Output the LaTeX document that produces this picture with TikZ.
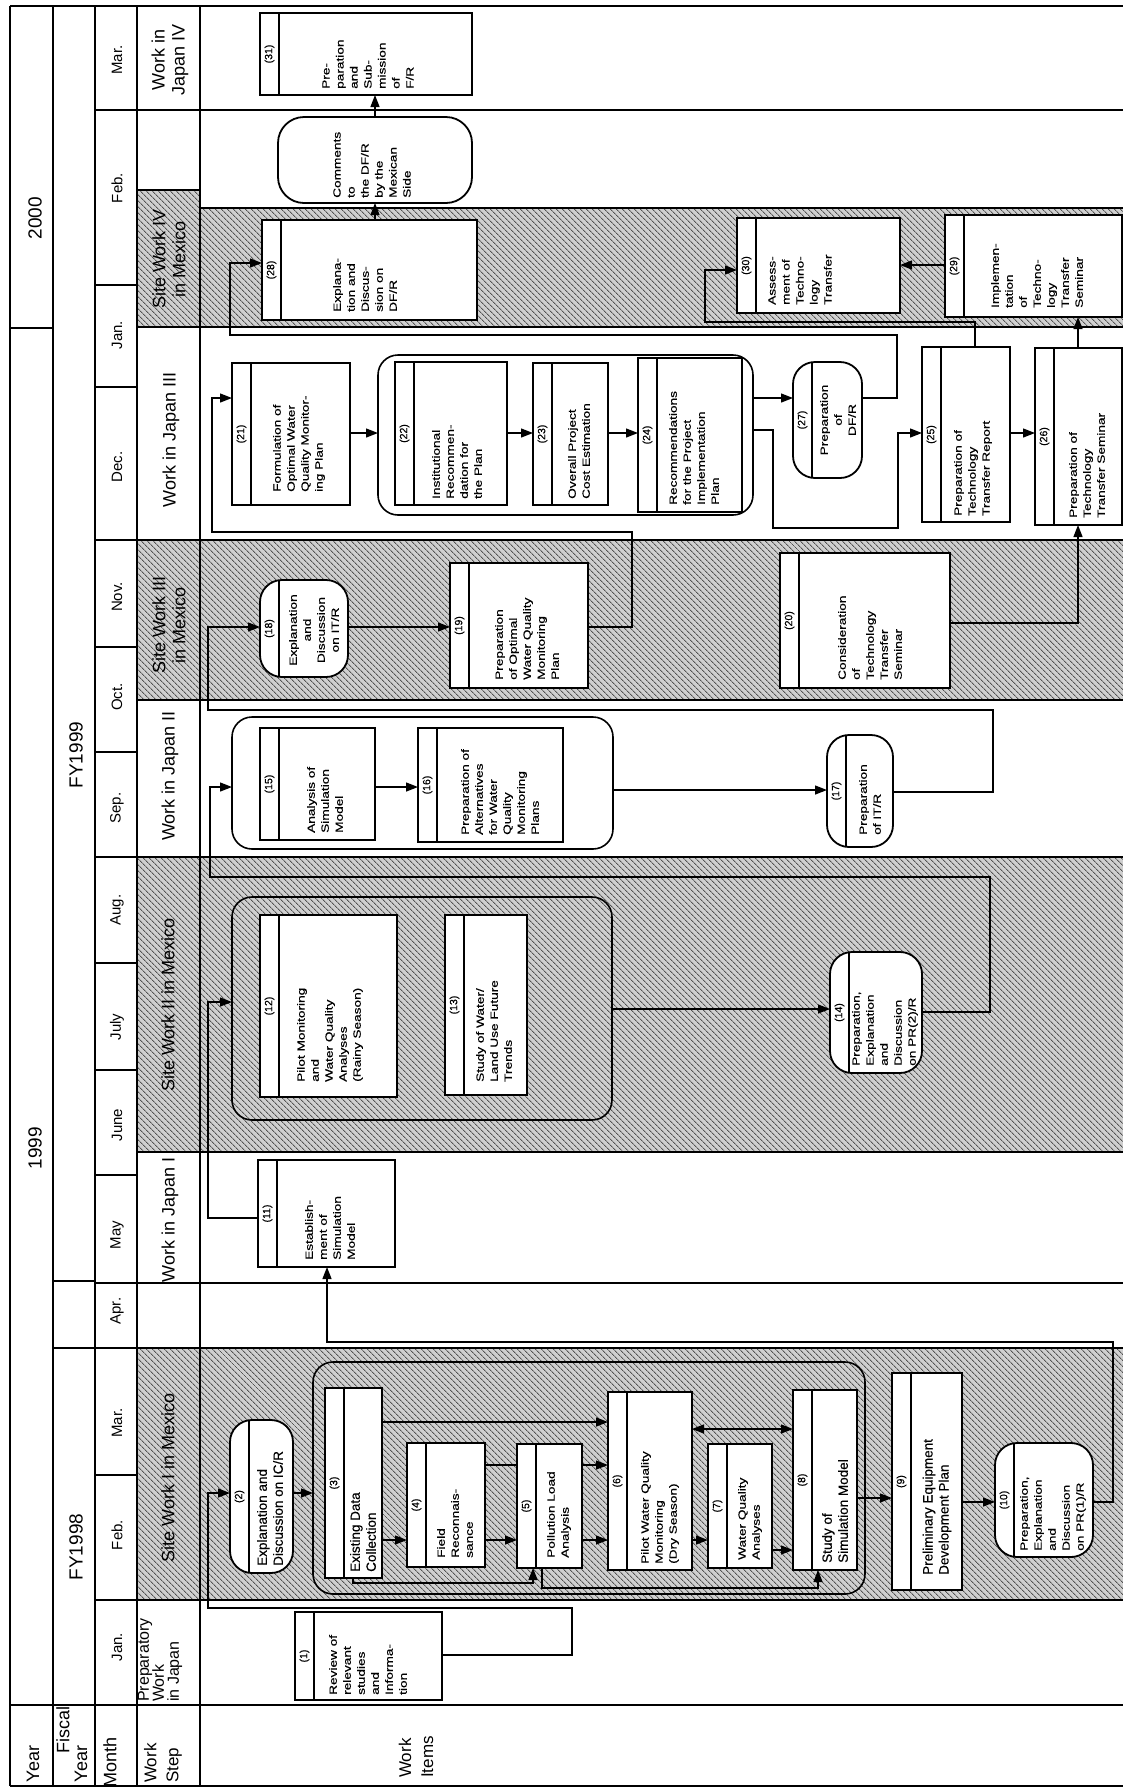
\documentclass[tikz,border=0pt]{standalone}
\usepackage{fontspec}
\setmainfont{Liberation Sans}
\newfontfamily\boxfont{Liberation Sans}[FakeStretch=1.3,FakeBold=0.4]
\newfontfamily\bigfont{Liberation Sans}[FakeBold=0.4]
\usetikzlibrary{arrows.meta,patterns.meta}
\newcommand\wkbox[7]{%
  \node[wbox,#7,minimum width={(#4-#2)*1pt},minimum height={(#5-#3)*1pt}] (#1) at ({(#2+#4)/2},{(#3+#5)/2}) {};
  \node[numtxt] at ({#2+9.5},{(#3+#5)/2}) {#6};}
\newcommand\grpbox[5]{%
  \node[grp,minimum width={(#4-#2)*1pt},minimum height={(#5-#3)*1pt}] (#1) at ({(#2+#4)/2},{(#3+#5)/2}) {};}
\begin{document}
\begin{tikzpicture}[x=1pt,y=-1pt,
  tl/.style={line width=1.3pt},
  tk/.style={line width=2.8pt},
  band/.style={fill=gray!38,postaction={pattern={Lines[angle=-45,distance=4pt,line width=1pt]},pattern color=gray!65!black}},
  wbox/.style={draw,line width=1.8pt,fill=white,inner sep=0pt,outer sep=0pt,
    path picture={\draw[line width=1.8pt] ([xshift=19pt]path picture bounding box.north west) -- ([xshift=19pt]path picture bounding box.south west);}},
  cbox/.style={draw,line width=1.8pt,fill=white,inner sep=0pt,outer sep=0pt,rounded corners=26pt},
  rnd/.style={rounded corners=22pt},
  grp/.style={draw,line width=1.6pt,rounded corners=20pt,inner sep=0pt,outer sep=0pt},
  numtxt/.style={rotate=90,inner sep=0pt,font=\bigfont\fontsize{10.5}{12}\selectfont},
  bt/.style={rotate=90,anchor=west,align=left,inner sep=0pt,font=\boxfont\fontsize{10.5}{14}\selectfont},
  big/.style={font=\bigfont\fontsize{13.5}{16}\selectfont},
  hd/.style={rotate=90,align=center,inner sep=0pt,font=\fontsize{18}{20}\selectfont},
  hdl/.style={rotate=90,anchor=west,align=left,inner sep=0pt,font=\fontsize{17}{22}\selectfont},
  mo/.style={rotate=90,inner sep=0pt,font=\fontsize{15}{18}\selectfont},
  yr/.style={rotate=90,inner sep=0pt,font=\fontsize{19}{22}\selectfont},
  cn/.style={line width=1.3pt},
  ar/.style={cn,-{Triangle[length=12pt,width=9pt]}},
  ar2/.style={cn,{Triangle[length=12pt,width=9pt]}-{Triangle[length=12pt,width=9pt]}},
]
\useasboundingbox (0,0) rectangle (1123,1789);
\fill[white] (0,0) rectangle (1123,1789);

% ---------- shaded site-work bands ----------
\path[band] (137,190) rectangle (200,327);
\path[band] (200,208) rectangle (1123,327);
\path[band] (137,540) rectangle (1123,700);
\path[band] (137,857) rectangle (1123,1152);
\path[band] (137,1348) rectangle (1123,1600);

% ---------- table lines ----------
\draw[tl] (10,6) -- (1123,6);
\draw[tl] (10,1786) -- (1123,1786);
\draw[tl] (10,328) -- (53,328);
\draw[tl] (10,1705) -- (1123,1705);
\draw[tl] (53,1281) -- (95,1281);
\draw[tl] (53,1348) -- (1123,1348);
\draw[tl] (95,1283) -- (1123,1283);
\foreach \yy in {110,540,857,1600} {\draw[tl] (95,\yy) -- (1123,\yy);}
\foreach \yy in {285,387,647,752,963,1070,1175,1475} {\draw[tl] (95,\yy) -- (137,\yy);}
\draw[tl] (137,190) -- (200,190);
\draw[tl] (200,208) -- (1123,208);
\foreach \yy in {327,700,1152} {\draw[tl] (137,\yy) -- (1123,\yy);}
\draw[tk] (10,6) -- (10,1786);
\draw[tk] (53,6) -- (53,1786);
\draw[line width=2pt] (95,6) -- (95,1786);
\draw[tk] (137,6) -- (137,1786);
\draw[tk] (200,6) -- (200,1786);

% ---------- header texts ----------
\node[yr] (y2000) at (35,218) {2000};
\node[yr] (y1999) at (35,1148) {1999};
\node[yr] (fy99) at (76,755) {FY1999};
\node[yr] (fy98) at (76,1547) {FY1998};
\node[mo] (m1) at (117,60) {Mar.};
\node[mo] (m2) at (117,188) {Feb.};
\node[mo] (m3) at (117,335) {Jan.};
\node[mo] (m4) at (117,467) {Dec.};
\node[mo] (m5) at (117,597) {Nov.};
\node[mo] (m6) at (117,697) {Oct.};
\node[mo] (m7) at (117,808) {Sep.};
\node[mo] (m8) at (117,910) {Aug.};
\node[mo] (m9) at (117,1027) {July};
\node[mo] (m10) at (117,1125) {June};
\node[mo] (m11) at (117,1235) {May};
\node[mo] (m12) at (117,1311) {Apr.};
\node[mo] (m13) at (117,1423) {Mar.};
\node[mo] (m14) at (117,1535) {Feb.};
\node[mo] (m15) at (117,1647) {Jan.};
\node[hd] (s1) at (170,60) {Work in\\Japan IV};
\node[hd] (s2) at (169,259) {Site Work IV\\in Mexico};
\node[hd] (s3) at (171,440) {Work in Japan III};
\node[hd] (s4) at (169,625) {Site Work III\\in Mexico};
\node[hd] (s5) at (170,776) {Work in Japan II};
\node[hd] (s6) at (168,1005) {Site Work II in Mexico};
\node[hd] (s7) at (170,1220) {Work in Japan I};
\node[hd] (s8) at (168,1478) {Site Work I in Mexico};
\node[rotate=90,anchor=west,align=left,inner sep=0pt,font=\fontsize{16}{15}\selectfont] (s9) at (160,1702) {Preparatory\\Work\\in Japan};
\node[hd] (hy) at (33,1764) {Year};
\node[hd] (hf1) at (63,1730) {Fiscal};
\node[hd] (hf2) at (81,1764) {Year};
\node[hd] (hm) at (110,1762) {Month};
\node[hdl] (hs) at (163,1783) {Work\\Step};
\node[hdl] (hi) at (416,1778) {Work\\Items};

% ---------- groups ----------
\grpbox{g38}{313}{1362}{865}{1594}
\grpbox{g1213}{232}{897}{612}{1120}
\grpbox{g1516}{232}{717}{613}{849}
\grpbox{g2224}{378}{355}{753}{515}

% ---------- boxes ----------
\wkbox{b1}{295}{1612}{442}{1700}{(1)}{}
\wkbox{b2}{230}{1420}{293}{1573}{(2)}{rnd}
\wkbox{b3}{325}{1388}{382}{1578}{(3)}{}
\wkbox{b4}{407}{1443}{485}{1567}{(4)}{}
\wkbox{b5}{517}{1444}{582}{1568}{(5)}{}
\wkbox{b6}{608}{1392}{692}{1570}{(6)}{}
\wkbox{b7}{708}{1444}{772}{1568}{(7)}{}
\wkbox{b8}{793}{1390}{857}{1570}{(8)}{}
\wkbox{b9}{892}{1373}{962}{1590}{(9)}{}
\wkbox{b10}{995}{1443}{1093}{1557}{(10)}{rnd}
\wkbox{b11}{258}{1160}{395}{1267}{(11)}{}
\wkbox{b12}{260}{915}{397}{1097}{(12)}{}
\wkbox{b13}{445}{915}{527}{1095}{(13)}{}
\wkbox{b14}{830}{952}{922}{1073}{(14)}{rnd}
\wkbox{b15}{260}{728}{375}{840}{(15)}{}
\wkbox{b16}{418}{728}{563}{842}{(16)}{}
\wkbox{b17}{827}{735}{893}{847}{(17)}{rnd}
\wkbox{b18}{260}{580}{348}{677}{(18)}{rnd}
\wkbox{b19}{450}{563}{588}{688}{(19)}{}
\wkbox{b20}{780}{553}{950}{688}{(20)}{}
\wkbox{b21}{232}{363}{350}{505}{(21)}{}
\wkbox{b22}{395}{362}{507}{505}{(22)}{}
\wkbox{b23}{533}{363}{608}{505}{(23)}{}
\wkbox{b24}{638}{358}{742}{512}{(24)}{}
\wkbox{b25}{922}{347}{1010}{522}{(25)}{}
\wkbox{b26}{1035}{348}{1122}{525}{(26)}{}
\wkbox{b27}{793}{362}{862}{478}{(27)}{rnd}
\wkbox{b28}{262}{220}{477}{320}{(28)}{}
\wkbox{b29}{945}{215}{1122}{317}{(29)}{}
\wkbox{b30}{737}{218}{900}{313}{(30)}{}
\wkbox{b31}{260}{13}{472}{95}{(31)}{}
\node[cbox,minimum width=194pt,minimum height=86pt] (bc) at (375,160) {};

% ---------- box texts ----------
\node[bt] (t1) at (368,1695) {Review of\\relevant\\studies\\and\\Informa-\\tion};
\node[bt,big] (t2) at (270,1566) {Explanation and\\Discussion on IC/R};
\node[bt,big] (t3) at (363,1572) {Existing Data\\Collection};
\node[bt] (t4) at (455,1558) {Field\\Reconnais-\\sance};
\node[bt] (t5) at (559,1558) {Pollution Load\\Analysis};
\node[bt] (t6) at (660,1564) {Pilot Water Quality\\Monitoring\\(Dry Season)};
\node[bt] (t7) at (750,1560) {Water Quality\\Analyses};
\node[bt,big] (t8) at (835,1563) {Study of\\Simulation Model};
\node[bt,big] (t9) at (937,1575) {Preliminary Equipment\\Development Plan};
\node[bt] (t10) at (1053,1551) {Preparation,\\Explanation\\and\\Discussion\\on PR(1)/R};
\node[bt] (t11) at (330,1260) {Establish-\\ment of\\Simulation\\Model};
\node[bt] (t12) at (330,1082) {Pilot Monitoring\\and\\Water Quality\\Analyses\\(Rainy Season)};
\node[bt] (t13) at (494,1082) {Study of Water/\\Land Use Future\\Trends};
\node[bt] (t14) at (885,1066) {Preparation,\\Explanation\\and\\Discussion\\on PR(2)/R};
\node[bt] (t15) at (325,833) {Analysis of\\Simulation\\Model};
\node[bt] (t16) at (500,835) {Preparation of\\Alternatives\\for Water\\Quality\\Monitoring\\Plans};
\node[bt] (t17) at (870,835) {Preparation\\of IT/R};
\node[bt,anchor=center,align=center] (t18) at (314,630) {Explanation\\and\\Discussion\\on IT/R};
\node[bt] (t19) at (527,680) {Preparation\\of Optimal\\Water Quality\\Monitoring\\Plan};
\node[bt] (t20) at (870,680) {Consideration\\of\\Technology\\Transfer\\Seminar};
\node[bt] (t21) at (299,492) {Formulation of\\Optimal Water\\Quality Monitor-\\ing Plan};
\node[bt] (t22) at (457,499) {Institutional\\Recommen-\\dation for\\the Plan};
\node[bt] (t23) at (579,499) {Overall Project\\Cost Estimation};
\node[bt] (t24) at (694,505) {Recommendations\\for the Project\\Implementation\\Plan};
\node[bt] (t25) at (973,516) {Preparation of\\Technology\\Transfer Report};
\node[bt] (t26) at (1087,518) {Preparation of\\Technology\\Transfer Seminar};
\node[bt,anchor=center,align=center] (t27) at (838,420) {Preparation\\of\\DF/R};
\node[bt] (t28) at (365,312) {Explana-\\tion and\\Discus-\\sion on\\DF/R};
\node[bt] (t29) at (1037,308) {Implemen-\\tation\\of\\Techno-\\logy\\Transfer\\Seminar};
\node[bt] (t30) at (800,305) {Assess-\\ment of\\Techno-\\logy\\Transfer};
\node[bt] (t31) at (368,89) {Pre-\\paration\\and\\Sub-\\mission\\of\\F/R};
\node[bt] (tc) at (372,198) {Comments\\to\\the DF/R\\by the\\Mexican\\Side};

% ---------- connectors ----------
\draw[ar] (b1.east |- 0,1655) -- (572,1655) -- (572,1608) -- (208,1608) -- (208,1493) -- (b2.west |- 0,1493);
\draw[ar] (b2.east |- 0,1493) -- (g38.west |- 0,1493);
\draw[ar] (b3.east |- 0,1540) -- (b4.west |- 0,1540);
\draw[ar] (b3.east |- 0,1422) -- (b6.west |- 0,1422);
\draw[ar] (b3.south -| 353,0) -- (353,1583) -- (533,1583) -- (b5.south -| 533,0);
\draw[ar] (b4.east |- 0,1540) -- (b5.west |- 0,1540);
\draw[cn] (b4.east |- 0,1465) -- (b5.west |- 0,1465);
\draw[ar] (b5.east |- 0,1540) -- (b6.west |- 0,1540);
\draw[ar] (b5.east |- 0,1465) -- (b6.west |- 0,1465);
\draw[ar] (b5.south -| 542,0) -- (542,1588) -- (818,1588) -- (b8.south -| 818,0);
\draw[ar] (b6.east |- 0,1540) -- (b7.west |- 0,1540);
\draw[ar2] (b6.east |- 0,1429) -- (b8.west |- 0,1429);
\draw[ar] (b7.east |- 0,1550) -- (b8.west |- 0,1550);
\draw[ar] (b8.east |- 0,1498) -- (b9.west |- 0,1498);
\draw[ar] (b9.east |- 0,1502) -- (b10.west |- 0,1502);
\draw[ar] (b10.east |- 0,1502) -- (1113,1502) -- (1113,1342) -- (327,1342) -- (b11.south -| 327,0);
\draw[ar] (b11.west |- 0,1218) -- (208,1218) -- (208,1002) -- (g1213.west |- 0,1002);
\draw[ar] (g1213.east |- 0,1009) -- (b14.west |- 0,1009);
\draw[ar] (b14.east |- 0,1012) -- (990,1012) -- (990,877) -- (210,877) -- (210,787) -- (g1516.west |- 0,787);
\draw[ar] (b15.east |- 0,787) -- (b16.west |- 0,787);
\draw[ar] (g1516.east |- 0,790) -- (b17.west |- 0,790);
\draw[ar] (b17.east |- 0,792) -- (993,792) -- (993,710) -- (208,710) -- (208,627) -- (b18.west |- 0,627);
\draw[ar] (b18.east |- 0,627) -- (b19.west |- 0,627);
\draw[ar] (b19.east |- 0,627) -- (632,627) -- (632,532) -- (212,532) -- (212,398) -- (b21.west |- 0,398);
\draw[ar] (b20.east |- 0,623) -- (1078,623) -- (b26.south -| 1078,0);
\draw[ar] (b21.east |- 0,433) -- (g2224.west |- 0,433);
\draw[ar] (b22.east |- 0,433) -- (b23.west |- 0,433);
\draw[ar] (b23.east |- 0,433) -- (b24.west |- 0,433);
\draw[ar] (g2224.east |- 0,398) -- (b27.west |- 0,398);
\draw[ar] (g2224.east |- 0,430) -- (773,430) -- (773,528) -- (898,528) -- (898,433) -- (b25.west |- 0,433);
\draw[ar] (b27.east |- 0,398) -- (897,398) -- (897,335) -- (230,335) -- (230,263) -- (b28.west |- 0,263);
\draw[ar] (b28.north -| 375,0) -- (bc.south -| 375,0);
\draw[ar] (bc.north -| 375,0) -- (b31.south -| 375,0);
\draw[ar] (b25.east |- 0,433) -- (b26.west |- 0,433);
\draw[ar] (b25.north -| 975,0) -- (975,322) -- (705,322) -- (705,270) -- (b30.west |- 0,270);
\draw[ar] (b29.west |- 0,265) -- (b30.east |- 0,265);
\draw[ar] (b26.north -| 1078,0) -- (b29.south -| 1078,0);
\end{tikzpicture}
\end{document}
